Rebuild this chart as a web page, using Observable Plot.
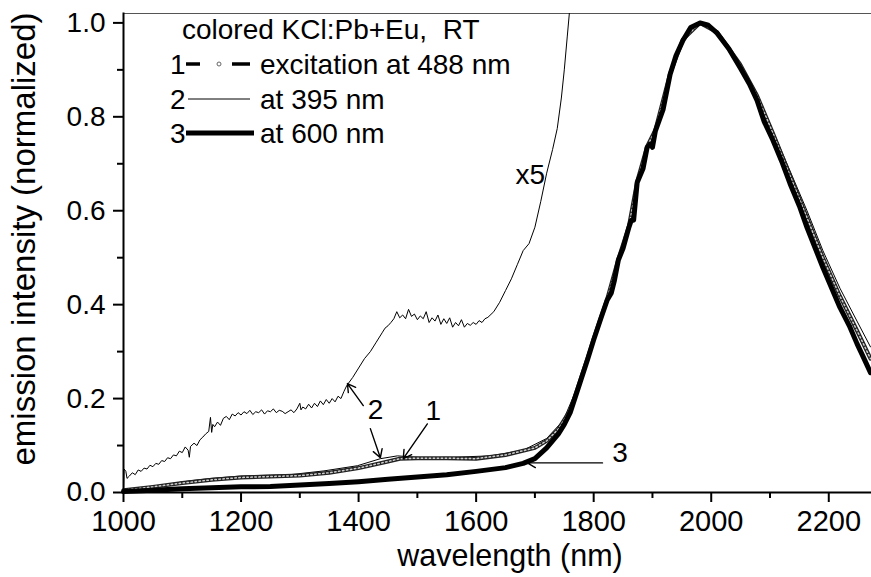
<!DOCTYPE html>
<html><head><meta charset="utf-8">
<script src="https://cdn.jsdelivr.net/npm/d3@7"></script>
<script src="https://cdn.jsdelivr.net/npm/@observablehq/plot@0.6"></script>
<style>
html,body{margin:0;padding:0;background:#fff;}
#wrap{position:relative;width:871px;height:577px;font-family:'Liberation Sans',Arial,sans-serif;}
#legend{position:absolute;left:0;top:0;}
</style></head><body><div id="wrap"></div>
<script>
// ---- data ----
const xTicksMajor = [1000, 1200, 1400, 1600, 1800, 2000, 2200];
const xTicksMinor = [1100, 1300, 1500, 1700, 1900, 2100];
const yTicksMajor = [0, 0.2, 0.4, 0.6, 0.8, 1.0];
const yTicksMinor = [0.1, 0.3, 0.5, 0.7, 0.9];

// curve 3: excitation at 600 nm (thick)
const wl3 = [1000,1020,1050,1100,1150,1200,1250,1300,1350,1400,1450,1500,1550,1600,1650,1680,1700,1720,1740,1750,1760,1777,1790,1800,1812,1823,1830,1835,1842,1850,1860,1864,1868,1874,1884,1891,1896,1900,1905,1918,1930,1940,1952,1965,1981,1995,2010,2030,2049,2065,2078,2090,2105,2120,2134,2150,2163,2177,2190,2205,2219,2235,2248,2260,2271];
const int3 = [0.002,0.003,0.005,0.008,0.010,0.012,0.013,0.016,0.019,0.023,0.028,0.033,0.038,0.045,0.053,0.062,0.072,0.095,0.125,0.145,0.17,0.235,0.285,0.325,0.37,0.41,0.425,0.45,0.495,0.52,0.565,0.58,0.58,0.66,0.69,0.735,0.742,0.735,0.77,0.815,0.89,0.93,0.963,0.99,1.0,0.995,0.978,0.945,0.905,0.87,0.835,0.79,0.75,0.705,0.658,0.61,0.564,0.52,0.479,0.435,0.394,0.355,0.317,0.285,0.255];

// curve 1: excitation at 488 nm (speckled)
const wl1 = [1000,1050,1100,1150,1200,1250,1300,1350,1400,1450,1470,1500,1550,1600,1650,1700,1720,1740,1760,1777,1790,1800,1823,1842,1860,1874,1891,1905,1930,1952,1981,2010,2049,2078,2105,2134,2163,2190,2219,2248,2271];
const int1 = [0.005,0.012,0.020,0.027,0.032,0.034,0.036,0.042,0.052,0.066,0.072,0.073,0.073,0.072,0.080,0.095,0.110,0.135,0.175,0.238,0.287,0.327,0.412,0.497,0.567,0.662,0.737,0.772,0.892,0.965,1.0,0.980,0.912,0.845,0.765,0.675,0.585,0.500,0.418,0.345,0.285];

// curve 2: excitation at 395 nm (thin)
const wl2 = [1000,1029,1060,1114,1150,1199,1250,1284,1341,1398,1437,1466,1510,1560,1624,1680,1720,1748,1777,1790,1800,1823,1842,1860,1874,1891,1905,1930,1952,1981,2010,2049,2078,2105,2134,2163,2190,2219,2248,2271];
const int2 = [0.003,0.008,0.015,0.025,0.030,0.035,0.037,0.038,0.046,0.057,0.072,0.078,0.074,0.075,0.078,0.090,0.115,0.153,0.238,0.288,0.328,0.413,0.498,0.568,0.663,0.738,0.773,0.893,0.966,1.0,0.982,0.915,0.850,0.770,0.685,0.600,0.515,0.435,0.365,0.310];

// curve 2 multiplied by 5 (thin, noisy)
const wlX5 = [1000,1001,1004,1006,1010,1015,1020,1025,1030,1035,1040,1045,1050,1055,1060,1065,1070,1075,1080,1085,1090,1095,1100,1105,1110,1112,1114,1120,1125,1130,1135,1140,1145,1148,1150,1152,1155,1160,1165,1170,1175,1180,1185,1190,1195,
  1200,1205,1210,1215,1220,1225,1230,1235,1240,1245,1250,1255,1260,1265,1270,1275,1280,1285,1290,1295,1300,1302,1305,1310,1315,1320,1325,1330,1335,1340,1345,1350,1355,1360,1365,1370,1375,1380,
  1390,1400,1410,1420,1430,1440,1445,1450,1455,1460,1465,1470,1475,1480,1485,1490,1495,1500,1505,1510,1515,1520,1525,1530,1535,1540,1545,1550,1555,1560,1565,1570,1575,1580,1585,1590,1595,1600,1605,1610,1615,1620,
  1630,1640,1650,1660,1670,1680,1690,1700,1710,1720,1730,1738,1745,1750,1755,1760];
const intX5 = [0.0,0.050,0.045,0.030,0.035,0.042,0.038,0.048,0.045,0.052,0.050,0.058,0.055,0.062,0.060,0.068,0.066,0.074,0.072,0.080,0.078,0.088,0.085,0.097,0.090,0.075,0.098,0.105,0.100,0.112,0.118,0.125,0.130,0.160,0.128,0.145,0.140,0.150,0.143,0.158,0.162,0.155,0.167,0.163,0.170,
  0.165,0.172,0.168,0.175,0.166,0.172,0.170,0.176,0.167,0.174,0.172,0.178,0.170,0.175,0.173,0.168,0.172,0.176,0.170,0.178,0.190,0.176,0.182,0.178,0.188,0.180,0.190,0.183,0.195,0.187,0.198,0.190,0.200,0.193,0.205,0.200,0.215,0.228,
  0.245,0.265,0.285,0.300,0.320,0.340,0.350,0.355,0.362,0.370,0.385,0.372,0.378,0.370,0.390,0.375,0.380,0.368,0.376,0.370,0.385,0.362,0.372,0.365,0.378,0.358,0.370,0.360,0.372,0.352,0.362,0.355,0.368,0.352,0.360,0.356,0.362,0.358,0.366,0.362,0.370,0.373,
  0.385,0.405,0.430,0.455,0.485,0.515,0.530,0.565,0.620,0.680,0.730,0.775,0.840,0.900,0.970,1.040];

// annotations (data coordinates)
const annLabels = ["x5", "2", "1", "3"];
const annX = [1692, 1429, 1527, 1845];
const annY = [0.677, 0.176, 0.174, 0.085];
const arrowFromX = [1408, 1420, 1517, 1815];
const arrowFromY = [0.185, 0.136, 0.146, 0.063];
const arrowToX = [1381, 1437, 1476, 1687];
const arrowToY = [0.232, 0.074, 0.072, 0.063];

const legendTitle = "colored KCl:Pb+Eu,  RT";
const legendNums = ["1", "2", "3"];
const legendTexts = ["excitation at 488 nm", "at 395 nm", "at 600 nm"];

// ---- tables ----
const zip = (xs, ys) => xs.map((x, i) => ({x, y: ys[i]}));
const c1 = zip(wl1, int1), c2 = zip(wl2, int2), c3 = zip(wl3, int3), cx5 = zip(wlX5, intX5);
const ann = annLabels.map((t, i) => ({t, x: annX[i], y: annY[i]}));
const arrows = arrowFromX.map((x, i) => ({x1: x, y1: arrowFromY[i], x2: arrowToX[i], y2: arrowToY[i]}));

const chart = Plot.plot({
  width: 871, height: 577,
  marginLeft: 123, marginRight: 1, marginTop: 13, marginBottom: 85,
  style: {fontFamily: "'Liberation Sans', Arial, sans-serif", fontSize: "27px", color: "black", background: "white", overflow: "visible"},
  x: {domain: [1000, 2271]},
  y: {domain: [0, 1.02]},
  marks: [
    Plot.frame({anchor: "top", stroke: "#555", strokeWidth: 1}),
    Plot.line(cx5, {x: "x", y: "y", stroke: "black", strokeWidth: 1, clip: true}),
    Plot.line(c2, {x: "x", y: "y", stroke: "black", strokeWidth: 1}),
    Plot.line(c1, {x: "x", y: "y", stroke: "#222", strokeWidth: 4}),
    Plot.line(c1, {x: "x", y: "y", stroke: "#ccc", strokeWidth: 1.5, strokeDasharray: "1.5,2.5"}),
    Plot.line(c3, {x: "x", y: "y", stroke: "black", strokeWidth: 5}),
    Plot.arrow(arrows, {x1: "x1", y1: "y1", x2: "x2", y2: "y2", stroke: "black", strokeWidth: 1.4, headLength: 10}),
    Plot.text(ann, {x: "x", y: "y", text: "t", fontSize: 28, fill: "black"}),
    Plot.frame({anchor: "left", stroke: "black", strokeWidth: 2}),
    Plot.frame({anchor: "bottom", stroke: "black", strokeWidth: 2}),
    Plot.axisX({ticks: xTicksMajor, tickSize: 10, tickPadding: 8, tickFormat: d => String(d), fontSize: 29, strokeWidth: 2, label: null}),
    Plot.axisX({ticks: xTicksMinor, tickSize: 6, fill: "none", strokeWidth: 2, label: null}),
    Plot.axisY({ticks: yTicksMajor, tickSize: 10, tickPadding: 8, tickFormat: d3.format(".1f"), fontSize: 28, strokeWidth: 2, label: null}),
    Plot.axisY({ticks: yTicksMinor, tickSize: 6, fill: "none", strokeWidth: 2, label: null}),
    Plot.text(["wavelength (nm)"], {frameAnchor: "bottom", lineAnchor: "middle", textAnchor: "middle", dy: 64, dx: 13, fontSize: 30.5, fill: "black"}),
    Plot.text(["emission intensity (normalized)"], {frameAnchor: "left", rotate: -90, textAnchor: "middle", lineAnchor: "middle", dx: -99, dy: -14, fontSize: 33, fill: "black"})
  ]
});

const wrap = document.getElementById("wrap");
wrap.appendChild(chart);

// legend overlay (inside plot area)
const lg = d3.select(wrap).append("svg").attr("id", "legend")
  .attr("width", 871).attr("height", 160)
  .style("font-family", "'Liberation Sans', Arial, sans-serif").style("font-size", "28px");
lg.append("text").attr("x", 182).attr("y", 39).attr("xml:space", "preserve").style("white-space", "pre").text(legendTitle);
const rowY = [64, 99, 133];
legendNums.forEach((n, i) => {
  lg.append("text").attr("x", 170).attr("y", rowY[i] + 10).text(n);
  lg.append("text").attr("x", 260).attr("y", rowY[i] + 10).text(legendTexts[i]);
});
// sample 1: dash, small circle, dash
lg.append("line").attr("x1", 186).attr("x2", 200).attr("y1", rowY[0]).attr("y2", rowY[0]).attr("stroke", "black").attr("stroke-width", 3.5);
lg.append("circle").attr("cx", 219).attr("cy", rowY[0]).attr("r", 2).attr("fill", "none").attr("stroke", "#666").attr("stroke-width", 1);
lg.append("line").attr("x1", 232).attr("x2", 250).attr("y1", rowY[0]).attr("y2", rowY[0]).attr("stroke", "black").attr("stroke-width", 3.5);
// sample 2: thin
lg.append("line").attr("x1", 188).attr("x2", 250).attr("y1", rowY[1]).attr("y2", rowY[1]).attr("stroke", "black").attr("stroke-width", 1);
// sample 3: thick
lg.append("line").attr("x1", 186).attr("x2", 254).attr("y1", rowY[2]).attr("y2", rowY[2]).attr("stroke", "black").attr("stroke-width", 5);
</script></body></html>
